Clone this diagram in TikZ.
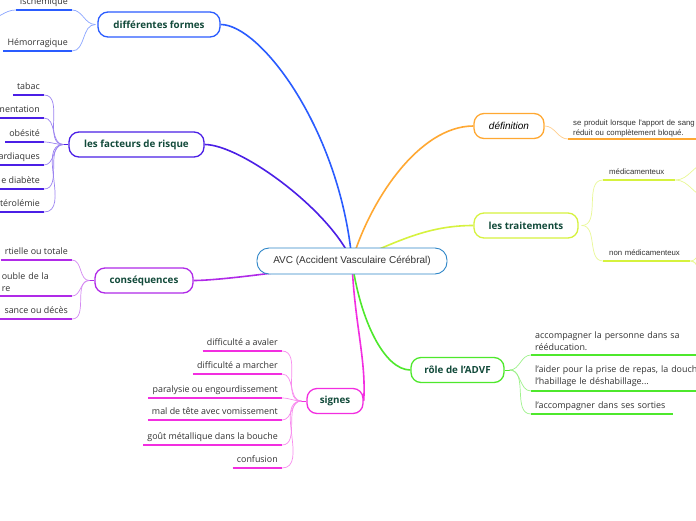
\documentclass[tikz,border=0pt]{standalone}
\usepackage{fontspec}
\setmainfont{Open Sans}
\newfontfamily\arialfont{Liberation Sans}
\usetikzlibrary{positioning,backgrounds}

\definecolor{cforme}{HTML}{2A5CFF}
\definecolor{crisque}{HTML}{4B1FE6}
\definecolor{cconseq}{HTML}{B02AE8}
\definecolor{csigne}{HTML}{F22EE0}
\definecolor{cdef}{HTML}{FFA832}
\definecolor{ctrait}{HTML}{D6F23E}
\definecolor{crole}{HTML}{4EE82C}
\definecolor{cavc}{HTML}{2E86C8}
\definecolor{ctitre}{HTML}{124A3A}
\definecolor{ctexte}{HTML}{333333}

\begin{document}
\begin{tikzpicture}[
    x=1pt, y=-1pt,
    avc/.style={draw=cavc, line width=0.9pt, fill=white, rounded corners=12pt,
      minimum width=190pt, minimum height=26pt, text=ctexte,
      font=\arialfont\fontsize{10}{12}\selectfont},
    branche/.style={draw=#1, line width=1.3pt, fill=white, rounded corners=10pt,
      minimum height=25pt, text=ctitre, font=\bfseries\fontsize{9.8}{11}\selectfont},
    feuilleG/.style={anchor=south east, align=right, inner xsep=4pt, inner ysep=3.5pt,
      text depth=2pt, text=ctexte, font=\fontsize{8.9}{11.5}\selectfont},
    feuilleD/.style={anchor=south west, align=left, inner xsep=4pt, inner ysep=3.5pt,
      text depth=2pt, text=ctexte, font=\fontsize{8.9}{11.5}\selectfont},
    multi/.style={text depth={}, inner ysep=4.5pt},
    fine/.style={font=\arialfont\fontsize{7.8}{10}\selectfont},
    lien/.style={#1, line width=1.6pt},
    souligne/.style={#1, line width=1.8pt},
    fil/.style={#1!55, line width=0.7pt}
  ]

  \useasboundingbox (0,0) rectangle (696,520);
  \clip (0,0) rectangle (696,520);

  % nodi
  \node[avc] (avc) at (352,261) {AVC (Accident Vasculaire Cérébral)};

  \node[branche=cforme, minimum width=122pt] (formes) at (159,24.5) {différentes formes};
  \node[branche=crisque, minimum width=135pt] (risque) at (136.5,144.5) {les facteurs de risque};
  \node[branche=cconseq, minimum width=98pt] (conseq) at (144,280.5) {conséquences};
  \node[branche=csigne, minimum width=56pt] (signes) at (335,401) {signes};
  \node[branche=cdef, minimum width=70pt, font=\arialfont\itshape\fontsize{10}{12}\selectfont,
    text=black] (defin) at (509,126) {définition};
  \node[branche=ctrait, minimum width=104pt] (trait) at (526,225.5) {les traitements};
  \node[branche=crole, minimum width=93pt] (role) at (457.5,370) {rôle de l'ADVF};

  % feuilles a sinistra
  \node[feuilleG] (isch) at (72,10) {Ischémique};
  \node[feuilleG] (hemo) at (72,51) {Hémorragique};

  \node[feuilleG] (tabac) at (44,95) {tabac};
  \node[feuilleG] (alim) at (44,118) {mentation};
  \node[feuilleG] (obes) at (44,142) {obésité};
  \node[feuilleG] (card) at (44,165) {ardiaques};
  \node[feuilleG] (diab) at (44,189) {e diabète};
  \node[feuilleG] (chol) at (44,212) {térolémie};

  \node[feuilleG] (paral) at (72,260) {rtielle ou totale};
  \node[feuilleG, multi, align=left, text width=66pt] (troub) at (72,296) {ouble de la\\re};
  \node[feuilleG] (deces) at (72,319) {sance ou décès};

  \node[feuilleG] (aval) at (282,351) {difficulté a avaler};
  \node[feuilleG] (march) at (282,374) {difficulté a marcher};
  \node[feuilleG] (engou) at (282,398) {paralysie ou engourdissement};
  \node[feuilleG] (vomi) at (282,420) {mal de tête avec vomissement};
  \node[feuilleG] (gout) at (282,445) {goût métallique dans la bouche};
  \node[feuilleG] (confu) at (282,468) {confusion};

  % feuilles a destra
  \node[feuilleD, multi, fine, text width=200pt, inner xsep=5pt, inner ysep=2pt] (deftxt) at (568,139)
    {se produit lorsque l'apport de sang\\réduit ou complètement bloqué.};
  \node[feuilleD, fine, text width=60pt, inner xsep=6pt] (medic) at (603,180) {médicamenteux};
  \node[feuilleD, fine, text width=75pt, inner xsep=6pt] (nonmed) at (603,261) {non médicamenteux};

  \node[feuilleD, multi, text width=200pt] (reedu) at (531,355)
    {accompagner la personne dans sa\\rééducation.};
  \node[feuilleD, multi, text width=200pt] (repas) at (531,391)
    {l'aider pour la prise de repas, la douch\\l'habillage le déshabillage...};
  \node[feuilleD, text width=134pt] (sort) at (531,414) {l'accompagner dans ses sorties};

  % points de jonction
  \coordinate (formes-j) at ([xshift=-2pt]formes.west);
  \coordinate (risque-j) at ([xshift=-5pt]risque.west);
  \coordinate (conseq-j) at ([xshift=-5pt]conseq.west);
  \coordinate (signes-j) at ([xshift=-5pt]signes.west);
  \coordinate (trait-j) at ([xshift=3pt]trait.east);
  \coordinate (role-j) at ([xshift=5pt]role.east);
  \coordinate (isch-g) at (-12,19);
  \coordinate (medic-a) at (708,163);
  \coordinate (medic-b) at (708,197);
  \coordinate (nonmed-a) at (708,243);
  \coordinate (nonmed-b) at (708,277);
  \coordinate (nonmed-c) at (708,290);

  % collegamenti principali
  \begin{scope}[on background layer]
    \fill[white] (0,0) rectangle (696,520);
    \draw[lien=cforme] (avc.center) .. controls +(-12,-131) and +(40,0) .. (formes.east);
    \draw[lien=crisque] (avc.center) .. controls +(-22,-51) and +(36,0) .. (risque.east);
    \draw[lien=cconseq] (avc.center) .. controls +(-52,9) and +(27,0) .. (conseq.east);
    \draw[lien=csigne] (avc.center) .. controls +(2,60) and +(3,-40) .. (signes.east);
    \draw[lien=cdef] (avc.center) .. controls +(18,-61) and +(-54,0) .. (defin.west);
    \draw[lien=ctrait] (avc.center) .. controls +(48,-21) and +(-44,0) .. (trait.west);
    \draw[lien=crole] (avc.center) .. controls +(8,59) and +(-26,0) .. (role.west);
  \end{scope}

  % soulignements
  \foreach \f/\c in {isch/cforme, hemo/cforme,
      tabac/crisque, alim/crisque, obes/crisque, card/crisque, diab/crisque, chol/crisque,
      paral/cconseq, troub/cconseq, deces/cconseq,
      aval/csigne, march/csigne, engou/csigne, vomi/csigne, gout/csigne, confu/csigne,
      deftxt/cdef, medic/ctrait, nonmed/ctrait, reedu/crole, repas/crole, sort/crole}
    \draw[souligne=\c] (\f.south west) -- (\f.south east);

  % branches fines
  \draw[souligne=crisque, line width=1pt] (risque-j) -- (risque.west);
  \draw[souligne=cconseq, line width=1pt] (conseq-j) -- (conseq.west);
  \draw[souligne=csigne, line width=1pt] (signes-j) -- (signes.west);
  \draw[souligne=crole, line width=1pt] (role.east) -- (role-j);

  \foreach \f in {isch, hemo}
    \draw[fil=cforme] (formes-j) to[out=180, in=0] (\f.south east);
  \foreach \f in {tabac, alim, obes, card, diab, chol}
    \draw[fil=crisque] (risque-j) to[out=180, in=0] (\f.south east);
  \foreach \f in {paral, troub, deces}
    \draw[fil=cconseq] (conseq-j) to[out=180, in=0] (\f.south east);
  \foreach \f in {aval, march, engou, vomi, gout, confu}
    \draw[fil=csigne] (signes-j) to[out=180, in=0] (\f.south east);
  \draw[fil=cforme] (isch.south west) to[out=180, in=0] (isch-g);

  \draw[fil=cdef] (defin.east) to[out=0, in=180] (deftxt.south west);
  \foreach \f in {medic, nonmed}
    \draw[fil=ctrait] (trait-j) to[out=0, in=180] (\f.south west);
  \foreach \f in {reedu, repas, sort}
    \draw[fil=crole] (role-j) to[out=0, in=180] (\f.south west);

  \foreach \e in {medic-a, medic-b}
    \draw[fil=ctrait] (medic.south east) to[out=0, in=180] (\e);
  \foreach \e in {nonmed-a, nonmed-b, nonmed-c}
    \draw[fil=ctrait] (nonmed.south east) to[out=0, in=180] (\e);

\end{tikzpicture}
\end{document}
